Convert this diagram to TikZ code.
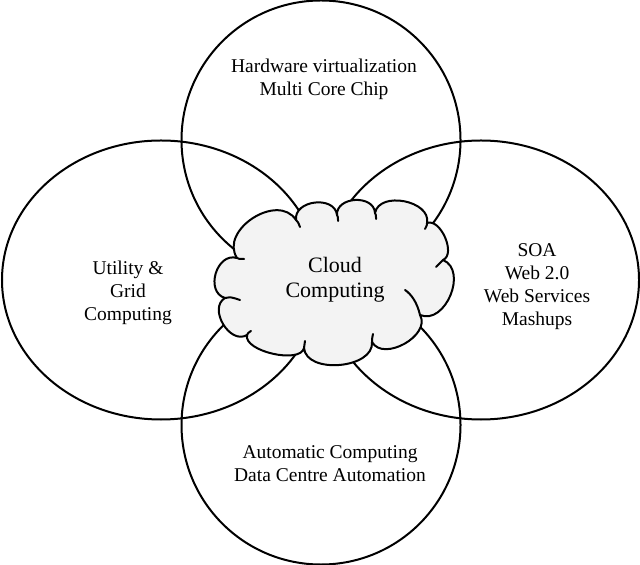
\documentclass[tikz,border=0pt]{standalone}
\usepackage{fontspec}
\setmainfont{Liberation Serif}
\definecolor{cloudfill}{RGB}{243,243,243}
\begin{document}
\begin{tikzpicture}[x=0.5pt,y=-0.5pt,
  ring/.style={draw=black, line width=1pt},
  cloudline/.style={draw=black, line width=1pt, line join=round, line cap=round},
  lbl/.style={align=center, inner sep=0pt, font=\fontsize{9.75}{11.5}\selectfont},
  cloudlbl/.style={align=center, inner sep=0pt, font=\fontsize{11}{12.5}\selectfont}]
\useasboundingbox (0,0) rectangle (640,565);
% four overlapping rings
\draw[ring] (321,140) ellipse [x radius=139.5, y radius=139.5];
\draw[ring] (321,425) ellipse [x radius=139.5, y radius=139.5];
\draw[ring] (161,280) ellipse [x radius=159, y radius=139.5];
\draw[ring] (481,280) ellipse [x radius=158, y radius=139.5];
% cloud
\filldraw[cloudline, fill=cloudfill] (237,258)
  .. controls (219,230) and (278,192) .. (296,220)
  .. controls (293.6,200.1) and (334.6,195.1) .. (337,215)
  .. controls (336,196.3) and (374,194.3) .. (375,213)
  .. controls (379.3,190.7) and (431.3,200.7) .. (427,223)
  .. controls (440.4,218) and (456.4,254) .. (443,260)
  .. controls (468.2,270.5) and (445.2,325.5) .. (420,315)
  .. controls (431.4,335.3) and (383.4,362.3) .. (372,342)
  .. controls (374.3,368.6) and (306.3,374.6) .. (304,348)
  .. controls (300.3,364.3) and (243.3,351.3) .. (247,335)
  .. controls (229.8,345.2) and (207.8,308.2) .. (225,298)
  .. controls (204.6,291.9) and (216.6,251.9) .. (237,258) -- cycle;
% inner curls of the cloud
\draw[cloudline] (237,258) .. controls (239,259) .. (244,259);
\draw[cloudline] (296,220) .. controls (298,222) .. (300,227);
\draw[cloudline] (337,215) .. controls (338,217) .. (338,221);
\draw[cloudline] (375,213) .. controls (376,215) .. (376,219);
\draw[cloudline] (427,223) .. controls (427,225) .. (425,229);
\draw[cloudline] (443,260) .. controls (440,263) .. (436,267);
\draw[cloudline] (420,315) .. controls (417,302) and (411,294) .. (405,290);
\draw[cloudline] (372,342) .. controls (372,339) .. (373,334);
\draw[cloudline] (304,348) .. controls (304,345) .. (305,341);
\draw[cloudline] (247,335) .. controls (248,333) .. (251,331);
\draw[cloudline] (225,298) .. controls (231,297) .. (240,300);
% labels
\node[lbl] (top) at (324,79) {Hardware virtualization\\Multi Core Chip};
\node[lbl] (left) at (128,293) {Utility \&\\Grid\\Computing};
\node[lbl] (right) at (537,287) {SOA\\Web 2.0\\Web Services\\Mashups};
\node[lbl] (bottom) at (330,464) {Automatic Computing\\Data Centre Automation};
\node[cloudlbl] (cloudtxt) at (335,280) {Cloud\\Computing};
\end{tikzpicture}
\end{document}
